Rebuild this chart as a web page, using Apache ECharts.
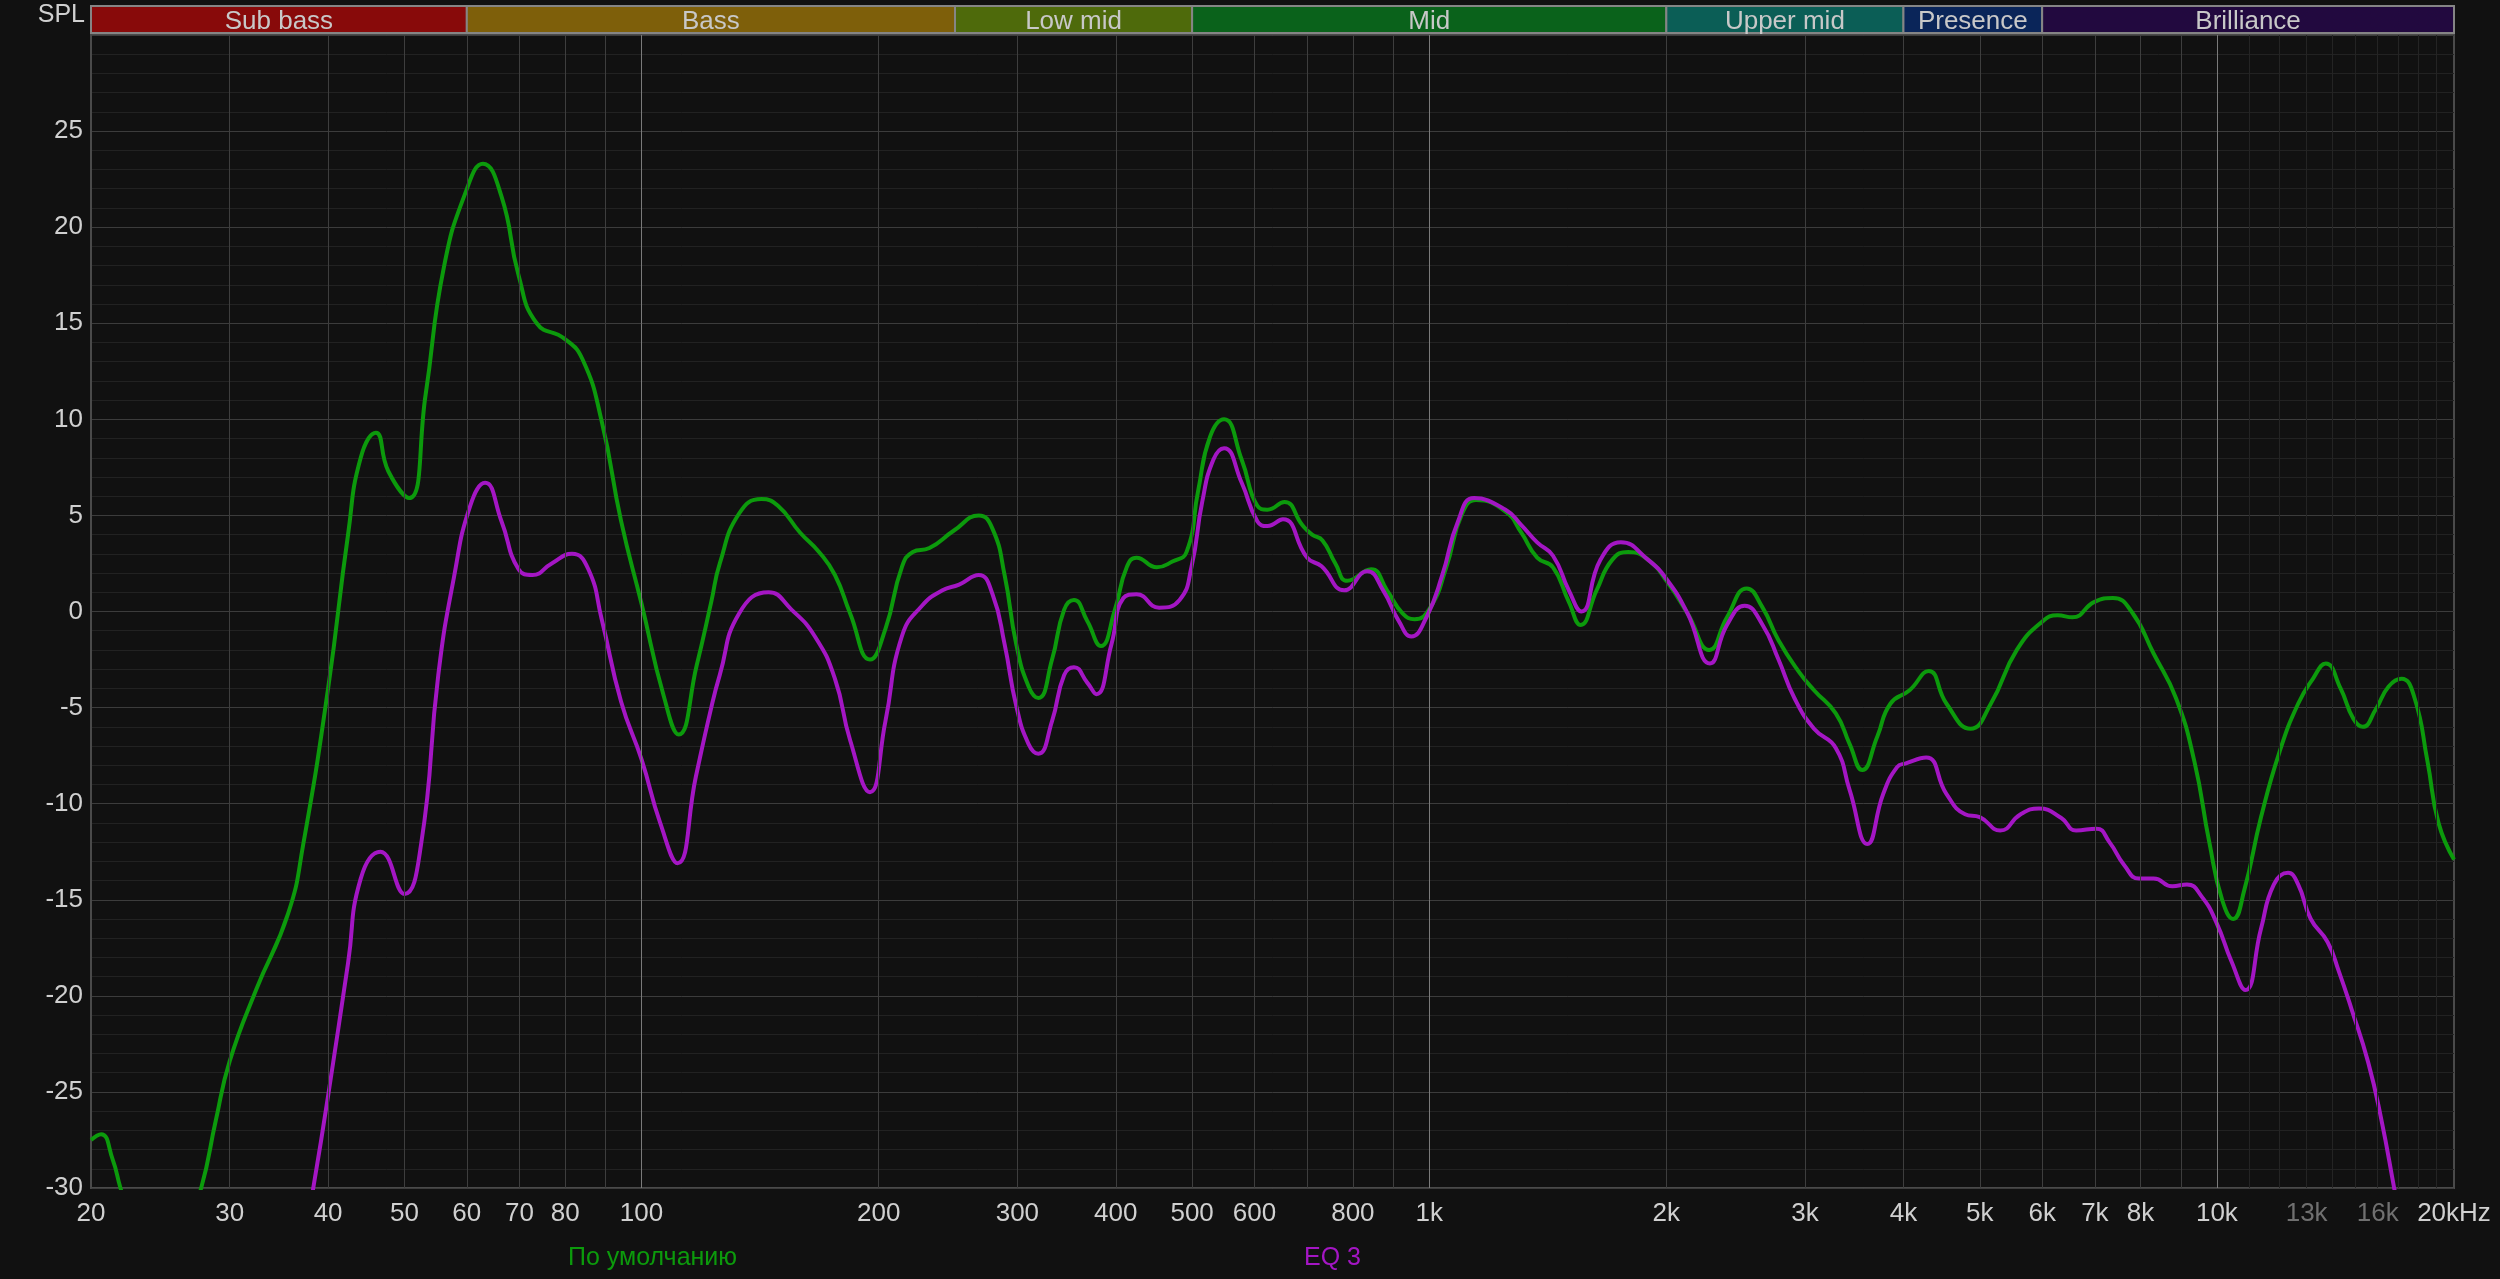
<!DOCTYPE html>
<html>
<head>
<meta charset="utf-8">
<script src="https://cdn.jsdelivr.net/npm/echarts@6/dist/echarts.min.js"></script>
<style>
  html, body { margin: 0; padding: 0; background: #111111; }
  #chart { width: 2500px; height: 1279px; }
</style>
</head>
<body>
<div id="chart"></div>
<script>
// частотная характеристика, дБ
var defaultFreq = [20, 20.6, 21.3, 21.8, 22.6, 24, 26, 27.6, 28.8, 30, 32.4, 35.6, 37.2, 40, 42.4, 44, 46, 47.7, 50.7, 53.2, 56.1, 59.9, 62.9, 66.4, 69.8, 73.6, 79.8, 84.2, 89, 94.2, 100, 106.7, 111.5, 117.5, 122.6, 125.7, 133, 142, 149, 159, 168, 176, 184, 195, 204, 214, 221, 232, 249, 268, 279, 289, 299, 310, 319, 332, 344, 354, 368, 383, 399, 413, 425, 451, 472, 492, 509, 527, 549, 578, 605, 623, 655, 690, 710, 732, 760, 787, 844, 884, 925, 958, 1003, 1051, 1101, 1147, 1250, 1309, 1371, 1436, 1504, 1557, 1631, 1708, 1789, 1895, 2008, 2128, 2268, 2388, 2530, 2650, 2776, 2942, 3080, 3282, 3418, 3546, 3706, 3850, 4072, 4306, 4537, 4867, 5164, 5572, 6012, 6277, 6554, 6992, 7380, 7791, 8314, 8872, 9363, 9780, 10154, 10488, 10834, 11378, 12010, 12680, 13240, 13748, 14356, 14910, 15316, 15906, 16522, 17158, 17822, 18508, 19114, 20000]
var defaultDb = [-27.5, -27.2, -28.5, -30, -32, -34, -33, -30, -26.5, -23.4, -19.7, -15.7, -12.1, -4.0, 4.0, 8.0, 9.3, 7.3, 5.9, 11.3, 17.9, 21.9, 23.3, 21.6, 17.5, 15.0, 14.2, 13.1, 9.9, 4.7, 0.4, -4.4, -6.4, -2.8, 0.5, 2.5, 5.1, 5.85, 5.5, 4.1, 3.1, 1.9, -0.1, -2.5, -0.9, 2.3, 3.1, 3.3, 4.2, 5.0, 4.3, 1.9, -1.7, -3.9, -4.5, -2.5, 0.1, 0.6, -0.5, -1.8, 0.1, 2.3, 2.8, 2.3, 2.6, 3.1, 6.3, 9.1, 10.0, 7.9, 5.5, 5.3, 5.7, 4.5, 4.0, 3.7, 2.5, 1.6, 2.2, 1.1, -0.1, -0.4, 0.2, 2.3, 5.1, 5.8, 5.2, 4.1, 2.8, 2.3, 0.5, -0.7, 1.1, 2.7, 3.1, 2.7, 1.5, -0.1, -2.0, -0.3, 1.2, 0.2, -1.5, -3.1, -4.1, -5.3, -6.9, -8.25, -6.5, -4.8, -4.1, -3.1, -4.8, -6.1, -4.8, -2.0, -0.5, -0.2, -0.3, 0.5, 0.7, 0.0, -2.2, -4.5, -7.8, -12.0, -15.0, -16.0, -14.5, -10.7, -7.3, -4.8, -3.5, -2.7, -4.0, -5.6, -6.0, -5.1, -3.9, -3.5, -4.5, -7.8, -11.0, -12.9]

var eqFreq = [34, 36.5, 38.3, 40, 42.4, 44, 46.6, 50, 52.5, 55.2, 57.8, 60.6, 63.3, 66.4, 69.8, 72.7, 76.9, 81.6, 85.6, 89, 94.2, 100, 105.6, 111.1, 117.2, 122.6, 125.7, 133, 145, 155, 166, 176, 184, 195, 204, 214, 227, 241, 253, 268, 279, 289, 299, 310, 319, 332, 344, 354, 368, 378, 395, 409, 425, 454, 482, 499, 515, 532, 549, 578, 605, 623, 652, 700, 730, 780, 834, 874, 915, 949, 992, 1039, 1088, 1140, 1250, 1309, 1371, 1436, 1504, 1560, 1650, 1751, 1895, 2008, 2128, 2272, 2388, 2515, 2650, 2776, 2908, 3080, 3282, 3418, 3600, 3770, 3926, 4028, 4274, 4537, 4790, 5000, 5308, 5635, 5946, 6346, 6626, 7032, 7304, 7628, 7962, 8314, 8778, 9162, 9572, 9990, 10434, 10870, 11378, 11814, 12312, 12680, 13158, 13820, 14276, 14826, 15560, 16166, 16790, 17500]
var eqDb = [-42, -35, -30, -25.2, -18.3, -13.9, -12.5, -14.7, -12.1, -3.3, 1.8, 5.5, 6.7, 4.7, 2.2, 1.9, 2.5, 3.0, 2.2, -0.4, -4.7, -7.7, -11.0, -13.1, -8.6, -5.0, -3.3, -0.1, 1.0, 0.1, -1.3, -3.5, -6.7, -9.4, -5.7, -1.3, 0.3, 1.1, 1.4, 1.9, 0.9, -1.7, -4.9, -6.9, -7.4, -5.7, -3.3, -2.9, -3.7, -4.3, -1.7, 0.7, 0.9, 0.2, 0.6, 2.3, 5.7, 7.9, 8.5, 6.7, 4.7, 4.45, 4.8, 2.8, 2.35, 1.1, 2.1, 1.1, -0.5, -1.3, -0.3, 1.9, 4.7, 5.9, 5.3, 4.5, 3.6, 2.9, 1.1, 0.0, 2.7, 3.6, 2.7, 1.6, -0.1, -2.7, -0.7, 0.3, -0.7, -2.5, -4.5, -6.1, -7.1, -9.3, -12.1, -9.5, -8.1, -7.9, -7.6, -9.5, -10.55, -10.7, -11.4, -10.55, -10.25, -10.75, -11.4, -11.3, -12.0, -13.2, -13.9, -13.9, -14.3, -14.2, -14.85, -16.2, -18.2, -19.7, -16.5, -14.2, -13.6, -14.2, -16.0, -17.2, -18.7, -20.7, -23.45, -26.4, -30, -34]

// полосы частот
var bandNames = ['Sub bass', 'Bass', 'Low mid', 'Mid', 'Upper mid', 'Presence', 'Brilliance']
var bandEdges = [20, 60, 250, 500, 2000, 4000, 6000, 20000]
var bandColors = ['#880a0a', '#7e5f0a', '#4e6a0b', '#0a621b', '#0b5e56', '#0a2559', '#22093f']

// подписи оси частот
var tickFreqs = [20, 30, 40, 50, 60, 70, 80, 100, 200, 300, 400, 500, 600, 800, 1000, 2000, 3000, 4000, 5000, 6000, 7000, 8000, 10000, 13000, 16000, 20000]
var tickLabels = ['20', '30', '40', '50', '60', '70', '80', '100', '200', '300', '400', '500', '600', '800', '1k', '2k', '3k', '4k', '5k', '6k', '7k', '8k', '10k', '13k', '16k', '20kHz']
var dimLabels = ['13k', '16k']

var minorFreqs = [30, 40, 50, 60, 70, 80, 90, 200, 300, 400, 500, 600, 700, 800, 900, 2000, 3000, 4000, 5000, 6000, 7000, 8000, 9000]
var majorFreqs = [100, 1000, 10000]
var fineFreqs = [11000, 12000, 13000, 14000, 15000, 16000, 17000, 18000, 19000]

var FONT = '"Liberation Sans", Arial, sans-serif'

function pairs(xs, ys) {
  return xs.map(function(x, i) { return [x, ys[i]] })
}

var chart = echarts.init(document.getElementById('chart'))

var gridLines = []
fineFreqs.forEach(function(f) {
  gridLines.push({ xAxis: f, lineStyle: { color: '#242424', width: 1, type: 'solid' }})
})
minorFreqs.forEach(function(f) {
  gridLines.push({ xAxis: f, lineStyle: { color: '#3e3e3e', width: 1, type: 'solid' }})
})
majorFreqs.forEach(function(f) {
  gridLines.push({ xAxis: f, lineStyle: { color: '#7a7a7a', width: 1, type: 'solid' }})
})

var labelLines = tickFreqs.map(function(f, i) {
  var item = { name: tickLabels[i], xAxis: f }
  if (dimLabels.indexOf(tickLabels[i]) >= 0) {
    item.label = { color: '#707070' }
  }
  return item
})

var bandAreas = bandNames.map(function(name, i) {
  return [
    { name: name, xAxis: bandEdges[i], itemStyle: { color: bandColors[i] }},
    { xAxis: bandEdges[i + 1] }
  ]
})

chart.setOption({
  backgroundColor: '#111111',
  animation: false,
  grid: [
    { left: 91, top: 35, width: 2363, height: 1153, show: true, backgroundColor: '#111111', borderColor: '#4a4a4a', borderWidth: 2 },
    { left: 91, top: 6, width: 2363, height: 27, show: false }
  ],
  xAxis: [
    { type: 'log', logBase: 10, min: 20, max: 20000, gridIndex: 0,
      axisLine: { show: false }, axisTick: { show: false }, axisLabel: { show: false }, splitLine: { show: false }},
    { type: 'log', logBase: 10, min: 20, max: 20000, gridIndex: 1, show: false }
  ],
  yAxis: [
    { type: 'value', min: -30, max: 30, interval: 5, gridIndex: 0,
      name: 'SPL', nameLocation: 'end', nameGap: 7,
      nameTextStyle: { color: '#d0d0d0', fontSize: 25, fontFamily: FONT, align: 'right', padding: [0, 6, 0, 0] },
      axisLine: { show: true, lineStyle: { color: '#4a4a4a', width: 2 }},
      axisTick: { show: false },
      axisLabel: { color: '#d0d0d0', fontSize: 26, fontFamily: FONT, margin: 8,
        formatter: function(v) { return v === 30 ? '' : String(v) } },
      splitLine: { show: true, lineStyle: { color: '#3c3c3c', width: 1 }},
      minorTick: { show: false, splitNumber: 5 },
      minorSplitLine: { show: true, lineStyle: { color: '#222222', width: 1 }}
    },
    { type: 'value', min: 0, max: 1, gridIndex: 1, show: false }
  ],
  legend: [
    { data: ['По умолчанию'], left: 558, top: 1241, icon: 'rect', itemWidth: 0, itemHeight: 0,
      textStyle: { color: '#0c9a0c', fontSize: 25, fontFamily: FONT }},
    { data: ['EQ 3'], left: 1294, top: 1241, icon: 'rect', itemWidth: 0, itemHeight: 0,
      textStyle: { color: '#a416c4', fontSize: 25, fontFamily: FONT }}
  ],
  series: [
    {
      type: 'line', name: '_grid', xAxisIndex: 0, yAxisIndex: 0, data: [], silent: true, z: 1,
      markLine: { silent: true, symbol: 'none', label: { show: false }, data: gridLines }
    },
    {
      type: 'line', name: '_ticks', xAxisIndex: 0, yAxisIndex: 0, data: [], silent: true, z: 1,
      markLine: {
        silent: true, symbol: 'none',
        lineStyle: { color: 'rgba(0,0,0,0)', width: 1, type: 'solid' },
        label: { show: true, position: 'start', distance: 13, formatter: '{b}', color: '#d0d0d0', fontSize: 26, fontFamily: FONT },
        data: labelLines
      }
    },
    {
      type: 'line', name: '_bands', xAxisIndex: 1, yAxisIndex: 1, data: [], silent: true,
      markArea: {
        silent: true,
        itemStyle: { borderColor: '#858585', borderWidth: 2 },
        label: { show: true, position: 'inside', color: '#c8c8c8', fontSize: 26, fontFamily: FONT, offset: [0, 2] },
        data: bandAreas
      }
    },
    {
      type: 'line', name: 'По умолчанию', xAxisIndex: 0, yAxisIndex: 0, z: 3,
      data: pairs(defaultFreq, defaultDb), smooth: 0.5, showSymbol: false, clip: true,
      itemStyle: { color: '#0c9a0c' },
      lineStyle: { color: '#0c9a0c', width: 4 }
    },
    {
      type: 'line', name: 'EQ 3', xAxisIndex: 0, yAxisIndex: 0, z: 4,
      data: pairs(eqFreq, eqDb), smooth: 0.5, showSymbol: false, clip: true,
      itemStyle: { color: '#a416c4' },
      lineStyle: { color: '#a416c4', width: 4 }
    }
  ]
})
</script>
</body>
</html>
